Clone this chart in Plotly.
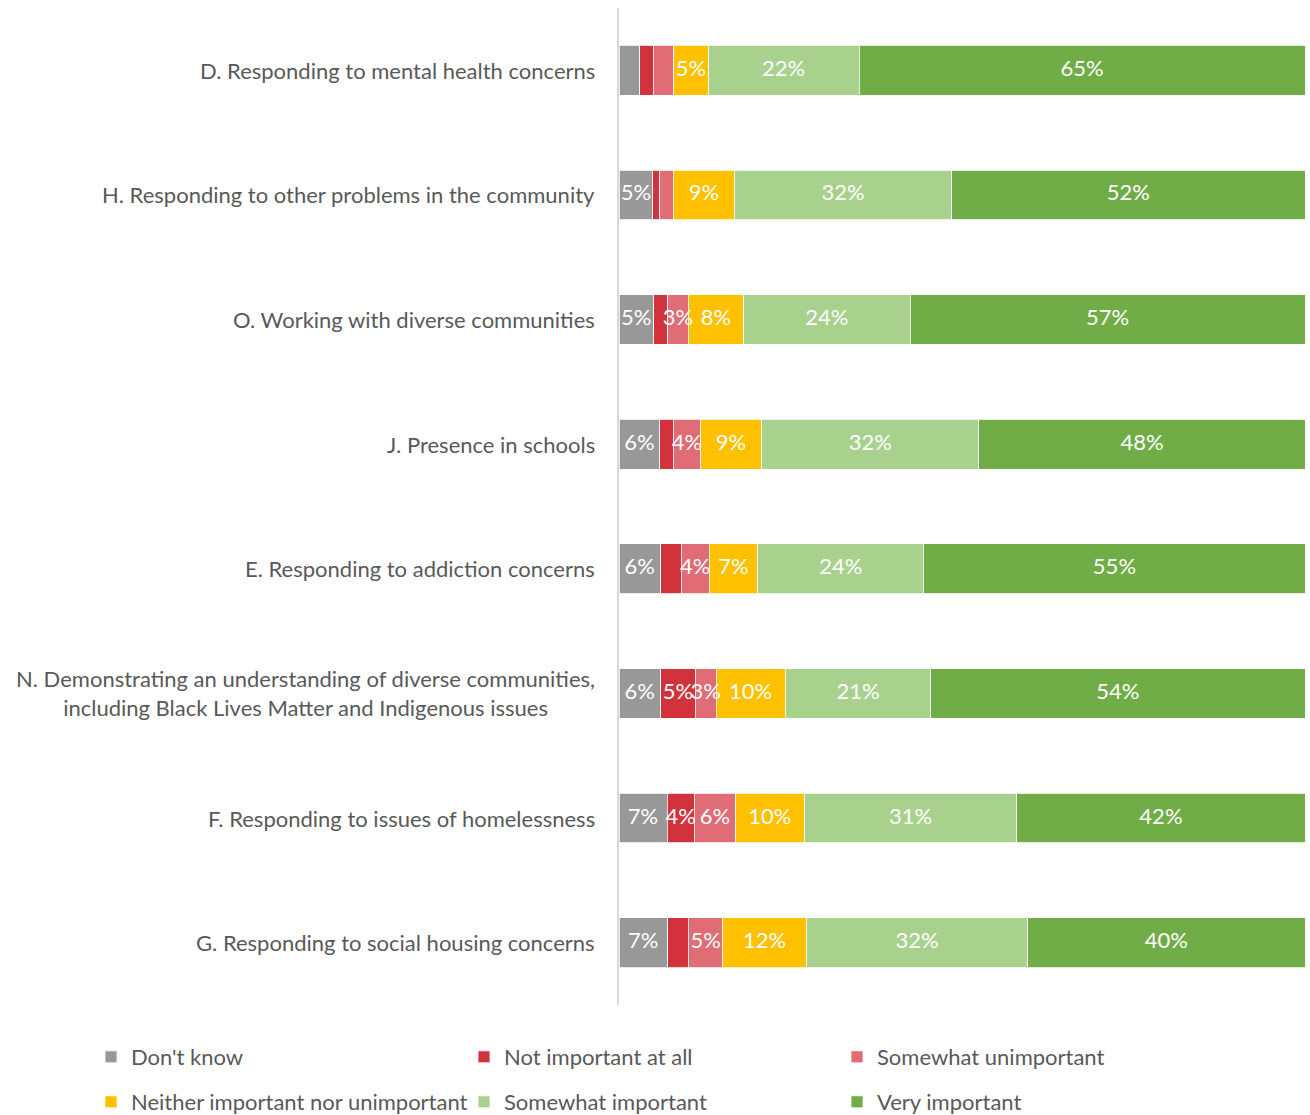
import plotly.graph_objects as go

# Survey items, top to bottom
categories = [
    "D. Responding to mental health concerns",
    "H. Responding to other problems in the community",
    "O. Working with diverse communities",
    "J. Presence in schools",
    "E. Responding to addiction concerns",
    "N. Demonstrating an understanding of diverse communities,<br>including Black Lives Matter and Indigenous issues",
    "F. Responding to issues of homelessness",
    "G. Responding to social housing concerns",
]

# Share of responses (%) per item, same order as categories
dont_know = [3, 5, 5, 6, 6, 6, 7, 7]
not_important = [2, 1, 2, 2, 3, 5, 4, 3]
somewhat_unimportant = [3, 2, 3, 4, 4, 3, 6, 5]
neither = [5, 9, 8, 9, 7, 10, 10, 12]
somewhat_important = [22, 32, 24, 32, 24, 21, 31, 32]
very_important = [65, 52, 57, 48, 55, 54, 42, 40]

# Which segments carry a value label
show_dont_know = [False, True, True, True, True, True, True, True]
show_not_important = [False, False, False, False, False, True, True, False]
show_somewhat_unimportant = [False, False, True, True, True, True, True, True]
show_all = [True] * 8

series = [
    ("Don't know", dont_know, show_dont_know, "#989898", "legend"),
    ("Not important at all", not_important, show_not_important, "#D1323C", "legend"),
    ("Somewhat unimportant", somewhat_unimportant, show_somewhat_unimportant, "#E06C75", "legend"),
    ("Neither important nor unimportant", neither, show_all, "#FFC000", "legend2"),
    ("Somewhat important", somewhat_important, show_all, "#A9D18E", "legend2"),
    ("Very important", very_important, show_all, "#70AD47", "legend2"),
]

FONT = "Lato, Calibri, sans-serif"
TEXT_GRAY = "#595959"

L_MARGIN, R_MARGIN, T_MARGIN, B_MARGIN = 619, 5, 8, 110
PLOT_W = 1310 - L_MARGIN - R_MARGIN
PLOT_H = 1115 - T_MARGIN - B_MARGIN

fig = go.Figure()

# 100% stacked bars
for name, vals, show, color, leg in series:
    fig.add_trace(go.Bar(
        y=categories,
        x=vals,
        name=name,
        orientation="h",
        marker=dict(color=color, line=dict(color="white", width=0.8)),
        legend=leg,
        hoverinfo="skip",
    ))

# Value labels sit on top of all bars so narrow segments are not covered
totals = [sum(s[1][i] for s in series) for i in range(len(categories))]
running = [0.0] * len(categories)
for name, vals, show, color, leg in series:
    xs, ys, txt = [], [], []
    for i, v in enumerate(vals):
        share = v / totals[i] * 100
        if show[i]:
            xs.append(running[i] + share / 2)
            ys.append(categories[i])
            txt.append(f"{v}%")
        running[i] += share
    fig.add_trace(go.Scatter(
        x=xs, y=ys, text=txt, mode="text",
        textposition="middle center",
        textfont=dict(color="white", size=22, family=FONT),
        showlegend=False, hoverinfo="skip", cliponaxis=False,
    ))

# Category labels, centred line by line and right-aligned to the axis
for cat in categories:
    fig.add_annotation(
        xref="paper", yref="y", x=0, y=cat,
        xanchor="right", yanchor="middle", xshift=-22,
        text=cat, align="center", showarrow=False,
        font=dict(size=22, color=TEXT_GRAY, family=FONT),
    )

legend_common = dict(
    orientation="h",
    xanchor="left",
    yanchor="middle",
    entrywidth=328,
    entrywidthmode="pixels",
    font=dict(size=22, color=TEXT_GRAY, family=FONT),
    bgcolor="rgba(0,0,0,0)",
    traceorder="normal",
    itemclick=False,
    itemdoubleclick=False,
)
legend_x = (91 - L_MARGIN) / PLOT_W

fig.update_layout(
    width=1310,
    height=1115,
    barmode="stack",
    barnorm="percent",
    bargap=0.6,
    plot_bgcolor="white",
    paper_bgcolor="white",
    margin=dict(l=L_MARGIN, r=R_MARGIN, t=T_MARGIN, b=B_MARGIN, autoexpand=False),
    showlegend=True,
    legend=dict(x=legend_x, y=-52 / PLOT_H, **legend_common),
    legend2=dict(x=legend_x, y=-97 / PLOT_H, **legend_common),
    xaxis=dict(visible=False, range=[0, 100], fixedrange=True),
    yaxis=dict(
        categoryorder="array",
        categoryarray=categories[::-1],
        autorange=False,
        range=[-0.5, len(categories) - 0.5],
        showticklabels=False,
        ticks="",
        showgrid=False,
        zeroline=False,
        showline=True,
        linecolor="#D9D9D9",
        linewidth=2,
        fixedrange=True,
    ),
)

fig.write_html("out.html")
